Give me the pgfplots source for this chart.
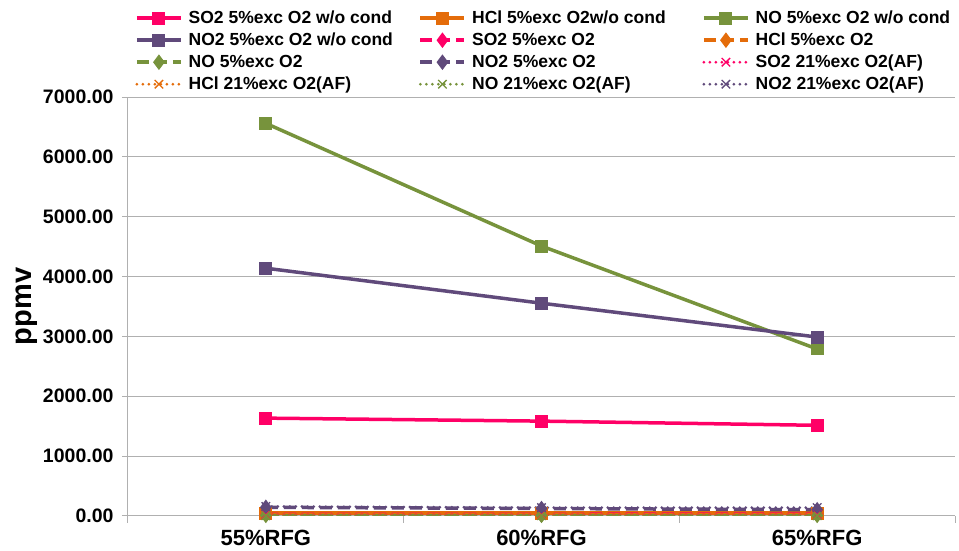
\documentclass[border=0pt]{standalone}
\usepackage{fontspec}
\setmainfont{Liberation Sans}
\usepackage{pgfplots}
\pgfplotsset{compat=1.18}
\definecolor{cso}{RGB}{255,0,102}
\definecolor{chc}{RGB}{228,108,10}
\definecolor{cno}{RGB}{119,147,60}
\definecolor{cnt}{RGB}{96,74,123}
\definecolor{gridg}{RGB}{176,176,176}
\newcommand{\lgd}[1]{\makebox[230pt][l]{#1}}
\pgfplotsset{
  wo/.style={solid, line width=3.5pt, mark=square*, mark size=6pt, mark options={solid, line width=1pt}},
  fv/.style={dash pattern=on 12pt off 6pt, line width=3.5pt, mark=diamond*, mark size=7pt, mark options={solid, line width=1pt}},
  af/.style={dash pattern=on 0pt off 6pt, line cap=round, line width=3pt, mark=x, mark size=6pt, mark options={solid, line width=1.3pt, line cap=butt}},
}
\begin{document}
\begin{tikzpicture}
\path[use as bounding box] (0,0) rectangle (959pt,551pt);
\begin{axis}[
  at={(128pt,35pt)}, anchor=south west,
  width=827pt, height=419pt, scale only axis,
  xmin=-0.5, xmax=2.5, ymin=0, ymax=7000,
  xtick={0,1,2}, xticklabels={55\%RFG,60\%RFG,65\%RFG},
  minor xtick={-0.5,0.5,1.5,2.5},
  major x tick style={draw=none},
  minor x tick style={gridg, line width=1pt},
  ytick={0,1000,2000,3000,4000,5000,6000,7000},
  y tick style={gridg, line width=1pt},
  tick align=outside, major tick length=6pt, minor tick length=7pt,
  ymajorgrids, grid style={gridg, line width=1pt},
  axis x line*=bottom, axis y line*=left,
  axis line style={gridg, line width=1pt},
  /pgf/number format/.cd, fixed, fixed zerofill, precision=2, 1000 sep={}, assume math mode=true,
  /pgfplots/.cd,
  yticklabel style={font=\fontsize{19.5}{22}\selectfont\bfseries, xshift=-5pt},
  xticklabel style={font=\fontsize{22}{24}\selectfont\bfseries, yshift=-5pt},
  ylabel={ppmv},
  every axis y label/.style={at={(axis description cs:0,0.5)}, xshift=-101pt, rotate=90, anchor=center, font=\fontsize{29}{32}\selectfont\bfseries},
  legend columns=3,
  legend style={at={(0,1)}, anchor=north west, xshift=7pt, yshift=89.5pt, draw=none, fill=none, inner sep=0pt, nodes={inner sep=0pt}, row sep=1pt, /tikz/every odd column/.append style={column sep=6pt}, font=\fontsize{17.5}{21}\selectfont\bfseries},
  legend image code/.code={%
    \pgfpathrectangle{\pgfpoint{0pt}{-10.5pt}}{\pgfpoint{44pt}{21pt}}\pgfusepath{discard}%
    \draw[#1, mark=none] (0pt,0pt) -- (44pt,0pt);
    \draw[#1, solid, draw=none] plot coordinates {(22pt,0pt)};},
]
\addplot[wo, color=cso] coordinates {(0,1635) (1,1585) (2,1515)};
\addlegendentry{\lgd{SO2 5\%exc O2 w/o cond}}
\addplot[wo, color=chc] coordinates {(0,50) (1,50) (2,50)};
\addlegendentry{\lgd{HCl 5\%exc O2w/o cond}}
\addplot[wo, color=cno] coordinates {(0,6560) (1,4510) (2,2790)};
\addlegendentry{\lgd{NO 5\%exc O2 w/o cond}}
\addplot[wo, color=cnt] coordinates {(0,4140) (1,3555) (2,2990)};
\addlegendentry{\lgd{NO2 5\%exc O2 w/o cond}}
\addplot[fv, color=cso] coordinates {(0,30) (1,30) (2,30)};
\addlegendentry{\lgd{SO2 5\%exc O2}}
\addplot[fv, color=chc] coordinates {(0,30) (1,30) (2,25)};
\addlegendentry{\lgd{HCl 5\%exc O2}}
\addplot[fv, color=cno] coordinates {(0,10) (1,10) (2,10)};
\addlegendentry{\lgd{NO 5\%exc O2}}
\addplot[fv, color=cnt] coordinates {(0,145) (1,125) (2,105)};
\addlegendentry{\lgd{NO2 5\%exc O2}}
\addplot[af, color=cso] coordinates {(0,20) (1,20) (2,20)};
\addlegendentry{\lgd{SO2 21\%exc O2(AF)}}
\addplot[af, color=chc] coordinates {(0,10) (1,10) (2,10)};
\addlegendentry{\lgd{HCl 21\%exc O2(AF)}}
\addplot[af, color=cno] coordinates {(0,5) (1,5) (2,5)};
\addlegendentry{\lgd{NO 21\%exc O2(AF)}}
\addplot[af, color=cnt] coordinates {(0,160) (1,140) (2,140)};
\addlegendentry{\lgd{NO2 21\%exc O2(AF)}}
\end{axis}
\end{tikzpicture}
\end{document}
